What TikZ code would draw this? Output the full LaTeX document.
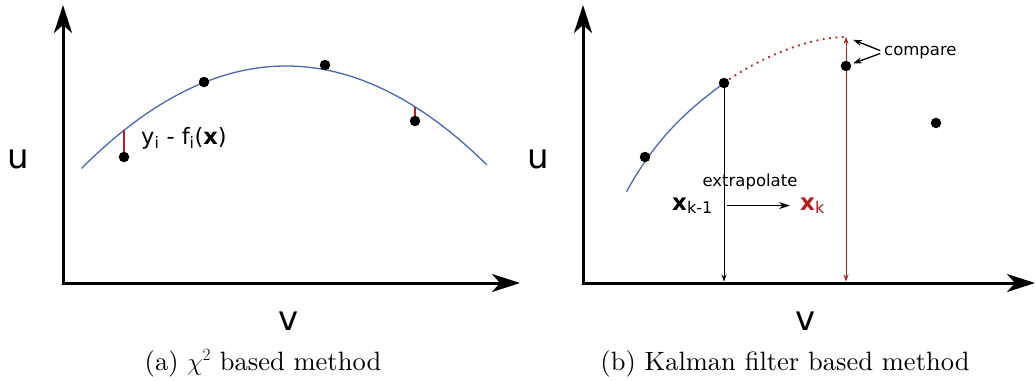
\documentclass[tikz,border=0pt]{standalone}
\usepackage{fontspec}
\usepackage{xcolor}
\usepackage{tikz}
\usetikzlibrary{arrows.meta, positioning, backgrounds}

\newfontfamily\labelfont{DejaVu Sans}
\newfontfamily\capfont{lmroman10-regular}[Extension=.otf]
\definecolor{fitblue}{RGB}{72,104,178}
\definecolor{fitred}{RGB}{178,32,32}

\tikzset{
    axisline/.style={line width=3pt,
        {Stealth[length=28pt, width=18pt, inset=8pt]}-{Stealth[length=28pt, width=18pt, inset=8pt]}},
    meas/.style={circle, fill=black, inner sep=0pt, minimum size=10.5pt},
    fitcurve/.style={fitblue, line width=1.3pt},
    extrapcurve/.style={fitred, line width=1.8pt, dash pattern=on 1.8pt off 4.6pt},
    resid/.style={fitred, line width=1.2pt},
    vline/.style={line width=1pt, -{Stealth[length=7pt, width=5pt]}},
    predline/.style={fitred, line width=1pt,
        {Stealth[length=7pt, width=5pt]}-{Stealth[length=7pt, width=5pt]}},
    cmparrow/.style={line width=1.3pt, -{Stealth[length=9pt, width=6pt]}},
    extarrow/.style={line width=1.4pt, -{Stealth[length=11pt, width=7pt]}},
    varlbl/.style={font=\labelfont\fontsize{34}{40}\selectfont, inner sep=0pt, anchor=base},
    reslbl/.style={font=\labelfont\fontsize{22.5}{26}\selectfont, inner sep=0pt},
    smalllbl/.style={font=\labelfont\fontsize{16.5}{19}\selectfont, inner sep=0pt},
    statelbl/.style={font=\labelfont\fontsize{23}{27}\selectfont, inner sep=0pt},
    capt/.style={font=\capfont\fontsize{26.5}{32}\selectfont, inner sep=0pt, anchor=base}
}

\begin{document}
\begin{tikzpicture}[x=1pt, y=-1pt,
    declare function={
        fitl(\x) = 66 + 24.5*((\x-286)/100)^2;
    }]
    \useasboundingbox (0,0) rectangle (1035,380);

    % Axes: origin, top of the u axis, end of the v axis
    \foreach \nm/\ox/\xend in {a/63/520, b/583/1035} {
        \coordinate (o\nm)  at (\ox, 283);
        \coordinate (ut\nm) at (\ox, 5);
        \coordinate (vt\nm) at (\xend, 283);
        \draw[axisline] (ut\nm) -- (o\nm) -- (vt\nm);
    }

    % Axis labels and captions
    \node[varlbl] (ua) at (18.5, 168) {u};
    \node[varlbl] (va) at (288.5, 330) {v};
    \node[varlbl] (ub) at (538.5, 168) {u};
    \node[varlbl] (vb) at (806, 330) {v};
    \node[capt] (capa) at (263, 370) {(a) $\chi^2$ based method};
    \node[capt] (capb) at (785, 370) {(b) Kalman filter based method};

    % (a) global fit to all measurements
    \node[meas] (a1) at (124, 157) {};
    \node[meas] (a2) at (204, 82)  {};
    \node[meas] (a3) at (325, 65)  {};
    \node[meas] (a4) at (415, 121) {};
    \coordinate (r1) at (124, {fitl(124)});
    \coordinate (r4) at (415, {fitl(415)});
    \begin{scope}[on background layer]
        \draw[fitcurve] plot[domain=81.5:487, samples=80] (\x, {fitl(\x)});
        \draw[resid] (a1) -- (r1);
        \draw[resid] (a4) -- (r4);
    \end{scope}
    \node[reslbl, anchor=base west] (res) at (141, 144)
        {y\textsubscript{i} - f\textsubscript{i}(\textbf{x})};

    % (b) track up to k-1, extrapolated to the next layer
    \node[meas] (b1) at (645, 157) {};
    \node[meas] (b2) at (724, 83)  {};
    \node[meas] (b3) at (846, 66)  {};
    \node[meas] (b4) at (936, 123) {};
    \coordinate (trk)      at (626.5, 191.7);
    \coordinate (pred)     at (846, 37);
    \coordinate (footprev) at (724, 281.5);
    \coordinate (footk)    at (846, 281.5);
    \begin{scope}[on background layer]
        \draw[fitcurve] (trk) .. controls (658.5, 133.5) and (692, 107) .. (b2.center);
        \draw[extrapcurve] (b2.center) .. controls (760, 57) and (810, 37) .. (pred);
        \draw[vline] (b2) -- (footprev);
        \draw[predline] (footk) -- (pred);
    \end{scope}

    \node[smalllbl, anchor=base] (extrap) at (750, 186) {extrapolate};
    \node[statelbl, anchor=base west] (xprev) at (672, 210) {\textbf{x}\textsubscript{k-1}};
    \node[statelbl, anchor=base west, text=fitred] (xnext) at (800, 210) {\textbf{x}\textsubscript{k}};
    \draw[extarrow, shorten <=14pt, shorten >=10pt] (xprev.east) -- (xnext.west);

    \node[smalllbl, anchor=base west] (cmp) at (884, 55) {compare};
    \draw[cmparrow, shorten <=4pt, shorten >=7.5pt] (cmp.west) -- (pred);
    \draw[cmparrow, shorten <=4pt, shorten >=2pt] (cmp.west) -- (b3);
\end{tikzpicture}
\end{document}
